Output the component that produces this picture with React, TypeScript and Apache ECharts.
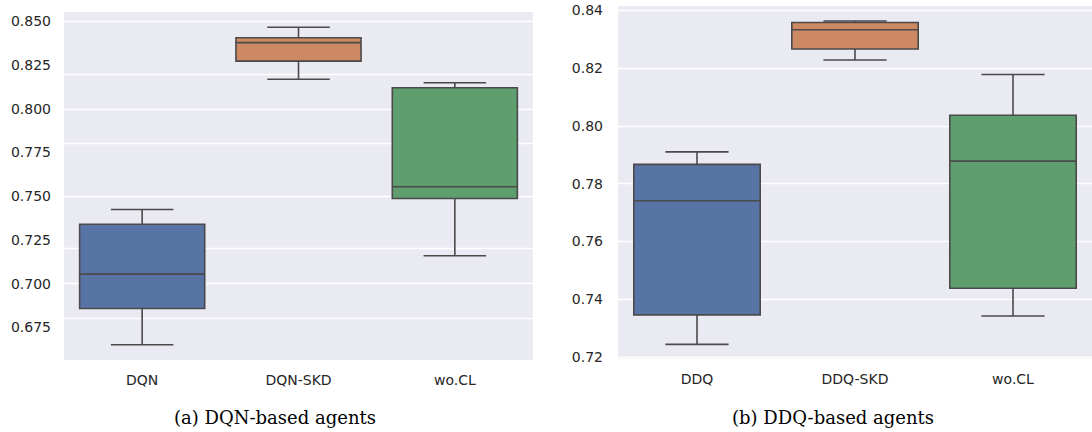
import React, { useEffect, useRef } from "react";
import * as echarts from "echarts";

const leftCategories = ["DQN", "DQN-SKD", "wo.CL"];
const rightCategories = ["DDQ", "DDQ-SKD", "wo.CL"];
// [min, Q1, median, Q3, max]
const leftStats = [
  [0.6651, 0.6858, 0.7055, 0.734, 0.7424],
  [0.8169, 0.8272, 0.8378, 0.8406, 0.8466],
  [0.716, 0.7487, 0.7554, 0.812, 0.8149],
];
const rightStats = [
  [0.7244, 0.7346, 0.7741, 0.7867, 0.791],
  [0.8228, 0.8266, 0.8333, 0.8358, 0.8363],
  [0.7342, 0.7438, 0.7878, 0.8037, 0.8178],
];
const leftTicks = [0.675, 0.7, 0.725, 0.75, 0.775, 0.8, 0.825, 0.85];
const rightTicks = [0.72, 0.74, 0.76, 0.78, 0.8, 0.82, 0.84];
const leftRange = [0.6564, 0.8553];
const rightRange = [0.7195, 0.8415];
const boxColors = ["#5874A4", "#CC8963", "#5F9E6E"];
const captions = ["(a) DQN-based agents", "(b) DDQ-based agents"];

const EDGE = "#4a4a4a";
const TEXT = "#262626";

function renderBox(params: any, api: any) {
  const idx = api.value(0);
  const vals = [api.value(1), api.value(2), api.value(3), api.value(4), api.value(5)];
  const band = api.size([1, 0])[0];
  const bw = band * 0.8;
  const cw = band * 0.4;
  const p = vals.map((v: number) => api.coord([idx, v]));
  const cx = p[0][0];
  const style = { stroke: EDGE, lineWidth: 1.6, fill: "none" };
  return {
    type: "group",
    children: [
      { type: "line", shape: { x1: cx, y1: p[0][1], x2: cx, y2: p[1][1] }, style },
      { type: "line", shape: { x1: cx, y1: p[3][1], x2: cx, y2: p[4][1] }, style },
      { type: "line", shape: { x1: cx - cw / 2, y1: p[0][1], x2: cx + cw / 2, y2: p[0][1] }, style },
      { type: "line", shape: { x1: cx - cw / 2, y1: p[4][1], x2: cx + cw / 2, y2: p[4][1] }, style },
      {
        type: "rect",
        shape: { x: cx - bw / 2, y: p[3][1], width: bw, height: p[1][1] - p[3][1] },
        style: { fill: boxColors[idx], stroke: EDGE, lineWidth: 1.6 },
      },
      { type: "line", shape: { x1: cx - bw / 2, y1: p[2][1], x2: cx + bw / 2, y2: p[2][1] }, style },
    ],
  };
}

export default function App() {
  const ref = useRef<HTMLDivElement>(null);
  useEffect(() => {
    if (!ref.current) return;
    const chart = echarts.init(ref.current, undefined, { renderer: "svg" });
    const mkData = (stats: number[][]) => stats.map((s, i) => [i, ...s]);
    const yAxisBase = (range: number[], ticks: number[], margin: number, decimals: number) => ({
      type: "value",
      min: range[0],
      max: range[1],
      axisLine: { show: false },
      axisTick: { show: false },
      splitLine: { show: false },
      axisLabel: {
        customValues: ticks,
        color: TEXT,
        fontSize: 14,
        fontFamily: "DejaVu Sans",
        margin,
        formatter: (v: number) => v.toFixed(decimals),
      },
    });
    const xAxisBase = (cats: string[]) => ({
      type: "category",
      data: cats,
      axisLine: { show: false },
      axisTick: { show: false },
      splitLine: { show: false },
      axisLabel: { color: TEXT, fontSize: 14, fontFamily: "DejaVu Sans", margin: 13 },
    });
    const gridLines = (ticks: number[], gi: number) => ({
      type: "line",
      xAxisIndex: gi,
      yAxisIndex: gi,
      data: [],
      z: 0,
      silent: true,
      markLine: {
        silent: true,
        z: 0,
        symbol: "none",
        label: { show: false },
        lineStyle: { color: "#ffffff", width: 1.3, type: "solid" },
        data: ticks.map((t) => ({ yAxis: t })),
      },
    });
    chart.setOption({
      animation: false,
      grid: [
        { left: 64, top: 12, width: 469, height: 348, show: true, backgroundColor: "#EAEAF2", borderWidth: 0 },
        { left: 618, top: 6, width: 474, height: 352.5, show: true, backgroundColor: "#EAEAF2", borderWidth: 0 },
      ],
      xAxis: [
        { ...xAxisBase(leftCategories), gridIndex: 0 },
        { ...xAxisBase(rightCategories), gridIndex: 1 },
      ],
      yAxis: [
        { ...yAxisBase(leftRange, leftTicks, 13, 3), gridIndex: 0 },
        { ...yAxisBase(rightRange, rightTicks, 15, 2), gridIndex: 1 },
      ],
      series: [
        gridLines(leftTicks, 0),
        gridLines(rightTicks, 1),
        {
          type: "custom",
          xAxisIndex: 0,
          yAxisIndex: 0,
          z: 10,
          renderItem: renderBox,
          data: mkData(leftStats),
          encode: { x: 0, y: [1, 2, 3, 4, 5] },
        },
        {
          type: "custom",
          xAxisIndex: 1,
          yAxisIndex: 1,
          z: 10,
          renderItem: renderBox,
          data: mkData(rightStats),
          encode: { x: 0, y: [1, 2, 3, 4, 5] },
        },
      ],
      graphic: [
        {
          type: "text",
          x: 275,
          y: 417,
          style: { text: captions[0], fill: "#000", font: "18px 'DejaVu Serif'", align: "center", verticalAlign: "middle" },
        },
        {
          type: "text",
          x: 833,
          y: 417,
          style: { text: captions[1], fill: "#000", font: "18px 'DejaVu Serif'", align: "center", verticalAlign: "middle" },
        },
      ],
    });
    return () => chart.dispose();
  }, []);
  return (
    <div
      ref={ref}
      style={{ position: "absolute", left: 0, top: 0, width: 1092, height: 432, background: "#fff" }}
    />
  );
}
